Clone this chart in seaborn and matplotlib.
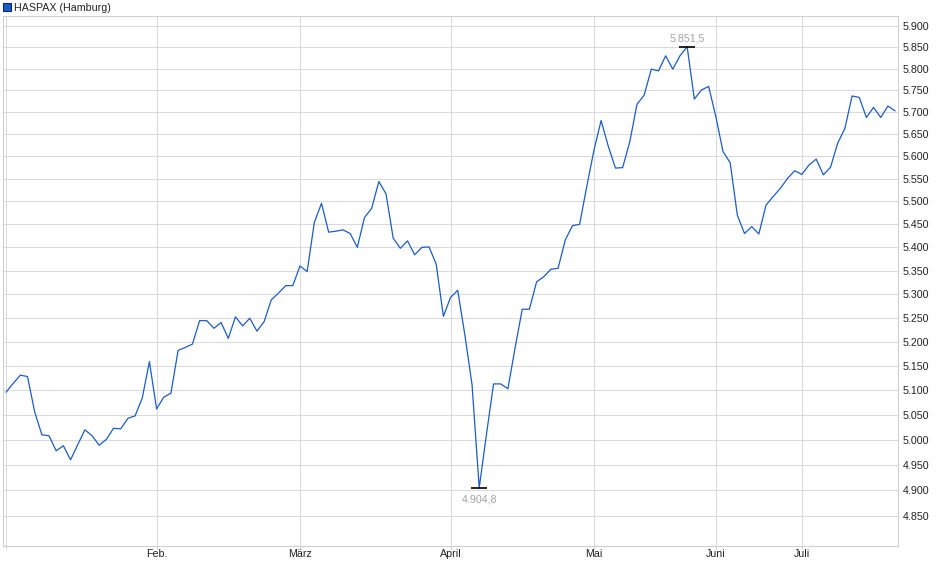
import numpy as np
import pandas as pd
import seaborn as sns
import matplotlib.pyplot as plt
from matplotlib.patches import Patch
from matplotlib.ticker import FixedLocator, FuncFormatter, NullLocator

# HASPAX (Hamburg), Schlusskurse je Handelstag
kurs = [5096, 5114, 5131, 5128, 5056, 5010, 5008, 4978, 4988, 4960,
        4990, 5020, 5008, 4989, 5001, 5023, 5022, 5043, 5048, 5084,
        5159, 5062, 5086, 5094, 5182, 5188, 5195, 5244, 5244, 5228,
        5240, 5207, 5252, 5233, 5249, 5222, 5242, 5288, 5302, 5318,
        5318, 5360, 5348, 5454, 5496, 5433, 5435, 5438, 5430, 5400,
        5465, 5485, 5544, 5517, 5420, 5398, 5414, 5384, 5400, 5401,
        5364, 5253, 5293, 5308, 5214, 5111, 4904.8, 5010, 5113, 5113,
        5103, 5187, 5268, 5268, 5326, 5337, 5353, 5355, 5416, 5447,
        5450, 5533, 5614, 5681, 5623, 5574, 5575, 5633, 5718, 5739,
        5799, 5795, 5830, 5799, 5830, 5851.5, 5730, 5751, 5759, 5690,
        5611, 5586, 5470, 5430, 5445, 5429, 5492, 5511, 5529, 5551,
        5568, 5560, 5581, 5594, 5559, 5576, 5630, 5663, 5737, 5734,
        5688, 5711, 5688, 5714, 5703]

monat_pos = [0, 21, 41, 62, 82, 99, 111]
monat_lab = ["", "Feb.", "März", "April", "Mai", "Juni", "Juli"]
y_ticks = list(range(4850, 5901, 50))
name = "HASPAX (Hamburg)"

blau = "#1c5cc6"
grau = "#dadada"


def de_zahl(v, nd=0):
    s = f"{v:,.{nd}f}"
    return s.replace(",", "X").replace(".", ",").replace("X", ".")


df = pd.DataFrame({"tag": np.arange(len(kurs)), "kurs": kurs})

sns.set_theme(style="white")
plt.rcParams["font.family"] = ["Liberation Sans", "DejaVu Sans"]
plt.rcParams["font.size"] = 7.7

fig = plt.figure(figsize=(9.4, 5.79), dpi=100)
ax = fig.add_axes([3 / 940, 33 / 579, 895.3 / 940, 530 / 579])

sns.lineplot(data=df, x="tag", y="kurs", color=blau, linewidth=0.9, ax=ax)

ax.set_yscale("log")
ax.set_ylim(4792, 5923.6)
ax.set_xlim(-0.42, 124.45)

ax.yaxis.set_major_locator(FixedLocator(y_ticks))
ax.yaxis.set_minor_locator(NullLocator())
ax.yaxis.set_major_formatter(FuncFormatter(lambda v, p: de_zahl(v)))
ax.yaxis.set_minor_formatter(FuncFormatter(lambda v, p: ""))
ax.yaxis.tick_right()
ax.set_xticks(monat_pos, monat_lab)

ax.grid(True, which="major", color=grau, linewidth=0.75)
ax.set_axisbelow(True)
for sp in ax.spines.values():
    sp.set_color("#cfcfcf")
    sp.set_linewidth(0.75)

ax.tick_params(axis="y", length=0, pad=3.2, labelsize=7.7, labelcolor="#222222")
ax.tick_params(axis="x", bottom=True, length=2, width=0.75, color="#cfcfcf",
               pad=0.3, labelsize=7.7, labelcolor="#222222")
ax.set_xlabel("")
ax.set_ylabel("")

# Hoch und Tief markieren
i_max = int(np.argmax(kurs))
i_min = int(np.argmin(kurs))
ax.plot([i_max, i_min], [kurs[i_max], kurs[i_min]], linestyle="none",
        marker="_", markersize=12, markeredgewidth=1.2, color="black", zorder=4)
ax.annotate(de_zahl(kurs[i_max], 1), (i_max, kurs[i_max]), xytext=(0, 3.9),
            textcoords="offset points", ha="center", va="baseline",
            color="#a3a3a3", fontsize=7.7)
ax.annotate(de_zahl(kurs[i_min], 1), (i_min, kurs[i_min]), xytext=(0, -10.3),
            textcoords="offset points", ha="center", va="baseline",
            color="#a3a3a3", fontsize=7.7)

fig.legend(handles=[Patch(facecolor=blau, edgecolor="#0d2a5e", linewidth=0.8, label=name)],
           loc="upper left", bbox_to_anchor=(2.5 / 940, 1 - 3 / 579), frameon=False,
           borderpad=0, borderaxespad=0, handlelength=0.75, handleheight=0.75,
           handletextpad=0.35, fontsize=7.7, labelcolor="#222222")

fig.savefig("out.png", dpi=100)
